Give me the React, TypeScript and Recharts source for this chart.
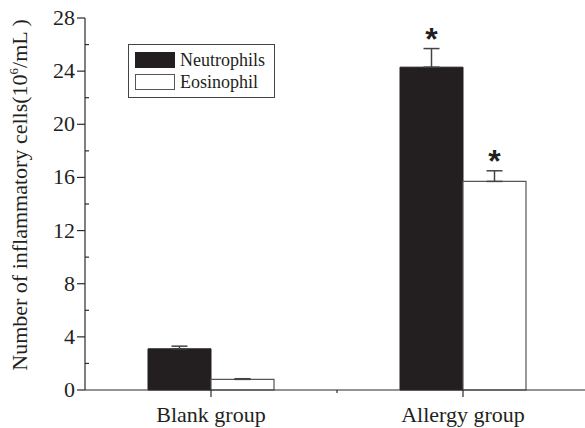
import React from 'react';
import {
  BarChart,
  Bar,
  XAxis,
  YAxis,
  ErrorBar,
  LabelList,
  Legend,
  Label,
} from 'recharts';

// cell counts per group (10^6/mL), mean and SD
const groups = ['Blank group', 'Allergy group'];
const neutrophils = [3.1, 24.3];
const neutrophilSd = [0.2, 1.4];
const eosinophils = [0.8, 15.7];
const eosinophilSd = [0.05, 0.8];
const neutrophilSig = [false, true];
const eosinophilSig = [false, true];

const seriesNames = ['Neutrophils', 'Eosinophil'];
// labelled ticks every 4, plain minor ticks in between
const yTicks = [0, 2, 4, 6, 8, 10, 12, 14, 16, 18, 20, 22, 24, 26, 28];
const yLabelStep = 4;

const data = groups.map((g, i) => ({
  group: g,
  neutrophils: neutrophils[i],
  // error bars only go up from the bar top
  neutrophilErr: [0, neutrophilSd[i]],
  eosinophils: eosinophils[i],
  eosinophilErr: [0, eosinophilSd[i]],
}));

const SERIF = '"Liberation Serif", "Times New Roman", serif';
const INK = '#231f20';
const AXIS = '#2b2b2b';

const Y_TICK = 8;
const Y_MINOR = 4;
const Y_GAP = 2;

const YTick = (props: any) => {
  const { x, y, payload } = props;
  const axisX = x + Y_TICK + Y_GAP;
  const major = payload.value % yLabelStep === 0;
  if (!major) {
    return <line x1={axisX} x2={axisX + Y_MINOR} y1={y} y2={y} stroke={AXIS} strokeWidth={1.2} />;
  }
  return (
    <g>
      <line x1={axisX - Y_TICK} x2={axisX} y1={y} y2={y} stroke={AXIS} strokeWidth={1.2} />
      <text
        x={x}
        y={y}
        dy={7}
        textAnchor="end"
        style={{ fontFamily: SERIF, fontSize: 22, fill: INK }}
      >
        {payload.value}
      </text>
    </g>
  );
};

const X_TICK = 7;
const X_MINOR = 3;
const X_GAP = 9;

const XTick = (props: any) => {
  const { x, y, payload, index } = props;
  const axisY = y - X_TICK - X_GAP;
  const half = payload.offset || 0;
  return (
    <g>
      <line x1={x} x2={x} y1={axisY} y2={axisY + X_TICK} stroke={AXIS} strokeWidth={1.2} />
      {index === 0 && half > 0 && (
        <line
          x1={x + half}
          x2={x + half}
          y1={axisY}
          y2={axisY + X_MINOR}
          stroke={AXIS}
          strokeWidth={1.2}
        />
      )}
      <text
        x={x}
        y={y}
        dy={16}
        textAnchor="middle"
        style={{ fontFamily: SERIF, fontSize: 22, fill: INK }}
      >
        {payload.value}
      </text>
    </g>
  );
};

// draws a "*" above the error bar when the group differs significantly
const starLabel = (sig: boolean[], sd: number[]) => (props: any) => {
  const { x, y, width, height, value, index } = props;
  if (!sig[index]) return null;
  const pxPerUnit = height / value;
  const errTop = y - sd[index] * pxPerUnit;
  return (
    <text
      x={x + width / 2}
      y={errTop + 1}
      textAnchor="middle"
      style={{ fontFamily: '"Liberation Sans", Arial, sans-serif', fontWeight: 'bold', fontSize: 32, fill: INK }}
    >
      *
    </text>
  );
};

const LegendBox = (props: any) => {
  const items = [...(props.payload || [])].sort(
    (a: any, b: any) => seriesNames.indexOf(a.value) - seriesNames.indexOf(b.value)
  );
  return (
    <div
      style={{
        border: '1px solid #444',
        background: '#fff',
        padding: '4px 8px 4px 6px',
        fontFamily: SERIF,
        fontSize: 18,
        color: INK,
        width: 131,
        lineHeight: '22px',
      }}
    >
      {items.map((p: any) => (
        <div key={p.value} style={{ display: 'flex', alignItems: 'center', height: 22 }}>
          <span
            style={{
              display: 'inline-block',
              width: 38,
              height: 14,
              background: p.payload.fill,
              border: `1px solid ${p.payload.stroke}`,
              marginRight: 5,
            }}
          />
          <span>{p.value}</span>
        </div>
      ))}
    </div>
  );
};

const YTitle = (props: any) => {
  const { viewBox } = props;
  const cy = viewBox.y + viewBox.height / 2 - 9;
  return (
    <text
      x={27}
      y={cy}
      transform={`rotate(-90, 27, ${cy})`}
      textAnchor="middle"
      style={{ fontFamily: SERIF, fontSize: 22, fill: INK }}
    >
      Number of inflammatory cells(10
      <tspan style={{ fontSize: 13 }} dy={-9}>6</tspan>
      <tspan dy={9}>/mL )</tspan>
    </text>
  );
};

export default function App() {
  return (
    <div
      style={{
        position: 'absolute',
        left: 0,
        top: 0,
        width: 585,
        height: 428,
        background: '#fff',
        fontFamily: SERIF,
      }}
    >
      <BarChart
        width={585}
        height={428}
        data={data}
        margin={{ top: 18, right: -4, bottom: 0, left: 0 }}
        barCategoryGap="25%"
        barGap={0}
      >
        <XAxis
          dataKey="group"
          height={38}
          tickSize={X_TICK}
          tickMargin={X_GAP}
          axisLine={{ stroke: AXIS, strokeWidth: 1.2 }}
          tickLine={false}
          tick={<XTick />}
        />
        <YAxis
          width={85}
          domain={[0, 28]}
          ticks={yTicks}
          interval={0}
          tickSize={Y_TICK}
          tickMargin={Y_GAP}
          axisLine={{ stroke: AXIS, strokeWidth: 1.2 }}
          tickLine={false}
          tick={<YTick />}
        >
          <Label content={<YTitle />} />
        </YAxis>
        <Legend
          layout="vertical"
          align="center"
          verticalAlign="middle"
          content={<LegendBox />}
          wrapperStyle={{ left: 128, top: 44, width: 'auto' }}
        />
        <Bar
          dataKey="neutrophils"
          name="Neutrophils"
          fill={INK}
          stroke={INK}
          strokeWidth={1}
          isAnimationActive={false}
        >
          <ErrorBar dataKey="neutrophilErr" width={8} stroke="#444" strokeWidth={1.5} />
          <LabelList dataKey="neutrophils" content={starLabel(neutrophilSig, neutrophilSd)} />
        </Bar>
        <Bar
          dataKey="eosinophils"
          name="Eosinophil"
          fill="#ffffff"
          stroke="#555"
          strokeWidth={1.2}
          isAnimationActive={false}
        >
          <ErrorBar dataKey="eosinophilErr" width={8} stroke="#444" strokeWidth={1.5} />
          <LabelList dataKey="eosinophils" content={starLabel(eosinophilSig, eosinophilSd)} />
        </Bar>
      </BarChart>
    </div>
  );
}
